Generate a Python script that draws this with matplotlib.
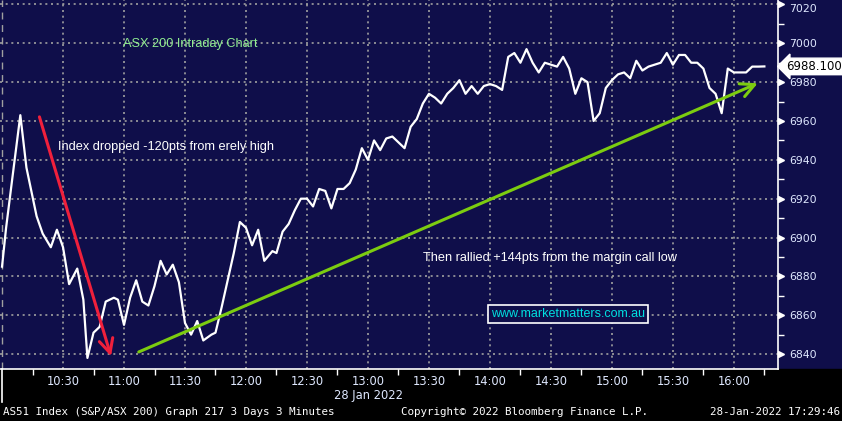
import numpy as np
import matplotlib.pyplot as plt

# ASX 200 intraday, 3 minute bars: minutes after the 10:00 open and index level
minutes = [0, 2, 5, 9, 12, 17, 20, 24, 27, 30, 33, 37, 40, 42, 45, 48, 51, 55, 57, 60,
           63, 66, 69, 72, 75, 78, 81, 84, 87, 90, 93, 96, 99, 103, 105, 108, 111, 114, 117, 120,
           123, 126, 129, 133, 135, 138, 141, 144, 147, 150, 153, 156, 159, 162, 165, 168, 171, 174, 177, 180,
           183, 186, 189, 192, 195, 198, 201, 204, 207, 210, 213, 216, 219, 222, 225, 228, 231, 234, 237, 240,
           243, 246, 249, 252, 255, 258, 261, 264, 267, 270, 273, 276, 279, 282, 285, 288, 291, 294, 297, 300,
           303, 306, 309, 312, 315, 318, 321, 324, 327, 330, 333, 336, 339, 342, 345, 348, 351, 354, 357, 360,
           363, 366, 369, 372, 375]
level = [6885, 6905, 6930, 6963, 6936, 6911, 6902, 6895, 6904, 6895, 6876, 6884, 6868, 6838, 6851, 6854, 6867, 6869, 6868, 6855,
         6869, 6878, 6867, 6865, 6875, 6888, 6881, 6886, 6877, 6856, 6850, 6857, 6847, 6850, 6851, 6864, 6878, 6892, 6908, 6905,
         6896, 6904, 6888, 6893, 6892, 6903, 6907, 6914, 6920, 6920, 6916, 6925, 6924, 6915, 6925, 6925, 6928, 6935, 6946, 6940,
         6950, 6945, 6951, 6952, 6949, 6946, 6957, 6961, 6969, 6974, 6972, 6969, 6974, 6977, 6981, 6974, 6978, 6974, 6978, 6979,
         6978, 6976, 6993, 6995, 6990, 6997, 6990, 6985, 6990, 6989, 6988, 6993, 6987, 6974, 6982, 6980, 6960, 6964, 6977, 6981,
         6984, 6985, 6982, 6991, 6986, 6988, 6989, 6990, 6995, 6989, 6994, 6994, 6990, 6990, 6987, 6977, 6974, 6964, 6987, 6985,
         6985, 6985, 6988, 6988, 6988.1]
last_price = "6988.100"

tick_minutes = [30, 60, 90, 120, 150, 180, 210, 240, 270, 300, 330, 360]
tick_labels = ["10:30", "11:00", "11:30", "12:00", "12:30", "13:00",
               "13:30", "14:00", "14:30", "15:00", "15:30", "16:00"]
y_ticks = [6840, 6860, 6880, 6900, 6920, 6940, 6960, 6980, 7000, 7020]

# hand drawn arrows (start, end) in minutes / index points
red_arrow = [(18, 6963.5), (54, 6837.5)]
green_arrow = [(66, 6840.5), (373, 6980)]

navy = '#0f0e4a'
label_col = '#dfe8ff'

fig = plt.figure(figsize=(8.42, 4.21), dpi=100, facecolor=navy)
# black strip under the chart
fig.patches.append(plt.Rectangle((0, 0), 1, 52/421, transform=fig.transFigure, color='black', zorder=-1))
ax = fig.add_axes([0, 52/421, 778/842, 369/421])
ax.set_facecolor(navy)

ax.plot(minutes, level, color='white', lw=1.6, zorder=3)

ax.set_xlim(-1, 381.7)
ax.set_ylim(6832.3, 7022.3)

# grid
for t in tick_minutes:
    ax.axvline(t, color='#a0a0a0', lw=1.2, ls=(0, (1.2, 2.2)), zorder=1)
for v in y_ticks:
    ax.axhline(v, color='#a0a0a0', lw=1.2, ls=(0, (1.2, 2.2)), zorder=1)
ax.axvline(0, color='#a0a0a0', lw=1.0, ls=(0, (5, 4)), zorder=1)

for s in ['top', 'left']:
    ax.spines[s].set_visible(False)
for s in ['bottom', 'right']:
    ax.spines[s].set_color('white')
    ax.spines[s].set_linewidth(1.2)

# x axis
ax.set_xticks(tick_minutes)
ax.set_xticklabels(tick_labels)
ax.set_xticks([t - 15 for t in tick_minutes] + [375], minor=True)
ax.tick_params(axis='x', which='major', length=0, pad=4, labelsize=8.3, labelcolor=label_col)
ax.tick_params(axis='x', which='minor', length=4, width=1, color='white', direction='out')
ax.plot([0, 0], [0, -0.09], color='white', lw=1.2, transform=ax.get_xaxis_transform(), clip_on=False)

# y axis on the right
ax.yaxis.tick_right()
ax.set_yticks(y_ticks)
ax.set_yticks([v + 10 for v in y_ticks[:-1]], minor=True)
ax.tick_params(axis='y', which='major', length=0, pad=8, labelsize=7.8, labelcolor=label_col)
ax.tick_params(axis='y', which='minor', length=4, width=1, color='white', direction='out')
ax.get_yticklabels()[-1].set_va('top')  # top label pushed inside the figure
ax.plot([1.004] * len(y_ticks), y_ticks, '>', color='white', ms=4, transform=ax.get_yaxis_transform(), clip_on=False)

# last price flag
ax.annotate(last_price, xy=(1.0, level[-1]), xycoords=ax.get_yaxis_transform(),
            xytext=(6, 0), textcoords='offset points', ha='left', va='center',
            fontsize=8.5, color='black',
            bbox=dict(boxstyle='larrow,pad=0.15', fc='white', ec='white'), annotation_clip=False)

# arrows
ax.annotate('', xy=red_arrow[1], xytext=red_arrow[0],
            arrowprops=dict(arrowstyle='->,head_length=1.0,head_width=0.5', color='#f0203c', lw=2.2), zorder=4)
ax.annotate('', xy=green_arrow[1], xytext=green_arrow[0],
            arrowprops=dict(arrowstyle='->,head_length=1.0,head_width=0.5', color='#7ccc10', lw=2.2), zorder=4)

# annotations
ax.text(59.5, 6999.6, "ASX 200 Intraday Chart", color='#90ee90', fontsize=9.2, family='Liberation Sans', va='center')
ax.text(27.5, 6946.6, "Index dropped -120pts from erely high", color='white', fontsize=9.2, family='Liberation Sans', va='center')
ax.text(207, 6889.4, "Then rallied +144pts from the margin call low", color='white', fontsize=9.2, family='Liberation Sans', va='center')
ax.text(278.4, 6860.6, "www.marketmatters.com.au", color='#00e0e0', fontsize=9, family='Liberation Sans',
        ha='center', va='center', bbox=dict(boxstyle='square,pad=0.25', fc=navy, ec='white', lw=1.2), zorder=5)

# footer
fig.text(368/842, 1 - 395/421, "28 Jan 2022", color=label_col, fontsize=8.3, ha='center', va='center')
fig.text(3/842, 1 - 412/421, "AS51 Index (S&P/ASX 200) Graph 217 3 Days 3 Minutes", color='white',
         fontsize=7.8, family='DejaVu Sans Mono', va='center')
fig.text(401/842, 1 - 412/421, "Copyright\u00a9 2022 Bloomberg Finance L.P.", color='white',
         fontsize=7.8, family='DejaVu Sans Mono', va='center')
fig.text(840/842, 1 - 412/421, "28-Jan-2022 17:29:46", color='white',
         fontsize=7.8, family='DejaVu Sans Mono', va='center', ha='right')

fig.savefig('out.png', dpi=100, facecolor=fig.get_facecolor())
